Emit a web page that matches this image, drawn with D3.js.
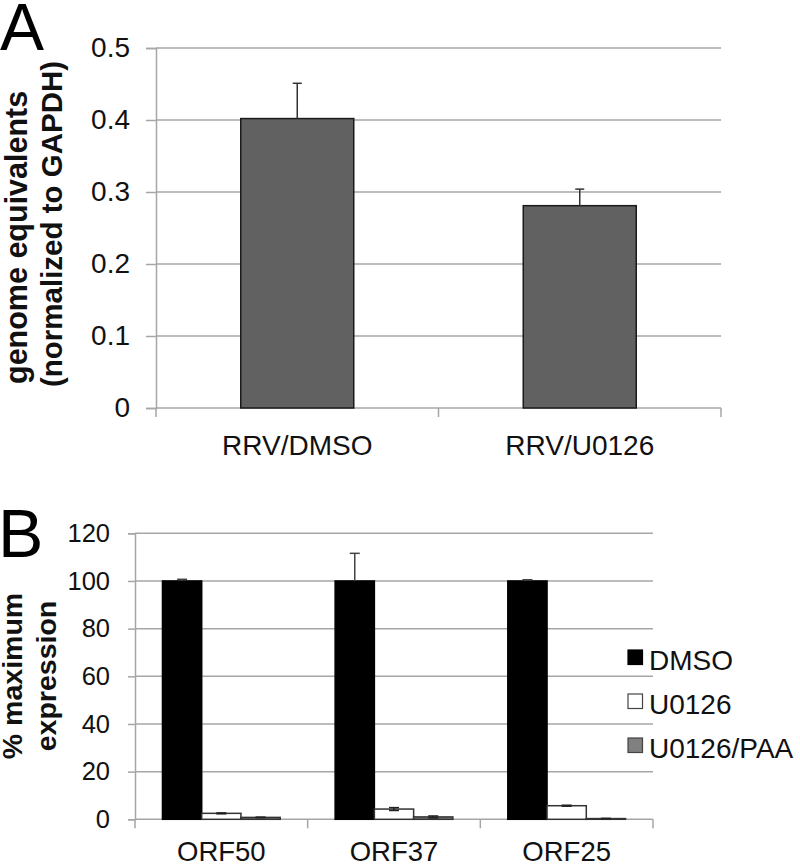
<!DOCTYPE html>
<html><head><meta charset="utf-8">
<script src="https://cdn.jsdelivr.net/npm/d3@7"></script>
<style>body{margin:0;background:#fff}svg{display:block;font-family:"Liberation Sans",Arial,sans-serif}</style>
</head><body>
<svg id="c" width="800" height="868"></svg>
<script>
// Panel A data
const catsA = ["RRV/DMSO", "RRV/U0126"];
const valsA = [0.402, 0.281];
const errA = [0.049, 0.023];
const ticksA = [0, 0.1, 0.2, 0.3, 0.4, 0.5];

// Panel B data
const catsB = ["ORF50", "ORF37", "ORF25"];
const seriesB = ["DMSO", "U0126", "U0126/PAA"];
const dmso = [100, 100, 100];
const dmsoErr = [0.7, 11.6, 0.5];
const u0126 = [2.5, 4.3, 5.7];
const u0126Err = [0.2, 0.6, 0.2];
const paa = [0.8, 1.0, 0.3];
const paaErr = [0.1, 0.4, 0.1];
const ticksB = [0, 20, 40, 60, 80, 100, 120];

const svg = d3.select("#c");
const grid = "#a6a6a6";

// ---------- Panel A ----------
const xA = d3.scaleBand().domain(catsA).range([156, 721]).paddingInner(0).paddingOuter(0);
const yA = d3.scaleLinear().domain([0, 0.5]).range([408, 48]);
const gA = svg.append("g");

gA.selectAll("line.grid").data(ticksA.slice(1)).join("line")
  .attr("x1", 156).attr("x2", 721).attr("y1", d => yA(d)).attr("y2", d => yA(d))
  .attr("stroke", grid).attr("stroke-width", 1.5);

const axA = gA.append("g").attr("transform", "translate(156,0)")
  .call(d3.axisLeft(yA).tickValues(ticksA).tickSize(10).tickPadding(16).tickFormat(d3.format(".1f")));
axA.select(".domain").attr("stroke", grid).attr("stroke-width", 1.5);
axA.selectAll(".tick line").attr("stroke", grid).attr("stroke-width", 1.5);
axA.selectAll(".tick text").attr("font-size", 28).attr("fill", "#111").attr("font-family", "Liberation Sans, Arial, sans-serif")
  .text(d => d === 0 ? "0" : d3.format(".1f")(d));

gA.append("line").attr("x1", 156).attr("x2", 721).attr("y1", yA(0)).attr("y2", yA(0)).attr("stroke", grid).attr("stroke-width", 1.5);
const bA = [xA.range()[0], ...catsA.map(c => xA(c) + xA.bandwidth())];
gA.selectAll("line.bt").data(bA).join("line")
  .attr("x1", d => d).attr("x2", d => d).attr("y1", yA(0)).attr("y2", yA(0) + 9)
  .attr("stroke", grid).attr("stroke-width", 1.5);

const bwA = xA.bandwidth() * 0.4;
gA.selectAll("rect.bar").data(catsA).join("rect")
  .attr("x", c => xA(c) + (xA.bandwidth() - bwA) / 2)
  .attr("y", (c, i) => yA(valsA[i]))
  .attr("width", bwA).attr("height", (c, i) => yA(0) - yA(valsA[i]))
  .attr("fill", "#616161").attr("stroke", "#1a1a1a").attr("stroke-width", 1.5);

catsA.forEach((c, i) => {
  const cx = xA(c) + xA.bandwidth() / 2;
  gA.append("line").attr("x1", cx).attr("x2", cx).attr("y1", yA(valsA[i])).attr("y2", yA(valsA[i] + errA[i])).attr("stroke", "#333").attr("stroke-width", 1.5);
  gA.append("line").attr("x1", cx - 4.5).attr("x2", cx + 4.5).attr("y1", yA(valsA[i] + errA[i])).attr("y2", yA(valsA[i] + errA[i])).attr("stroke", "#333").attr("stroke-width", 1.5);
});

gA.selectAll("text.cat").data(catsA).join("text")
  .attr("x", c => xA(c) + xA.bandwidth() / 2).attr("y", 455)
  .attr("text-anchor", "middle").attr("font-size", 28).attr("fill", "#111").text(c => c);

gA.append("text").attr("transform", "translate(26.5,384) rotate(-90)")
  .attr("font-size", 30.5).attr("font-weight", "bold").attr("fill", "#111").text("genome equivalents");
gA.append("text").attr("transform", "translate(61.5,387) rotate(-90)")
  .attr("font-size", 29.5).attr("font-weight", "bold").attr("fill", "#111").text("(normalized to GAPDH)");

svg.append("text").attr("x", 0).attr("y", 50).attr("font-size", 66).attr("fill", "#000").text("A");

// ---------- Panel B ----------
const xB = d3.scaleBand().domain(catsB).range([135, 653]).paddingInner(0).paddingOuter(0);
const x1 = d3.scaleBand().domain(seriesB).range([0, xB.bandwidth()]).paddingInner(0).paddingOuter(0.7);
const yB = d3.scaleLinear().domain([0, 120]).range([819.3, 533.3]);
const gB = svg.append("g");

gB.selectAll("line.grid").data(ticksB.slice(1)).join("line")
  .attr("x1", 135).attr("x2", 653).attr("y1", d => yB(d)).attr("y2", d => yB(d))
  .attr("stroke", grid).attr("stroke-width", 1.5);

const axB = gB.append("g").attr("transform", "translate(135,0)")
  .call(d3.axisLeft(yB).tickValues(ticksB).tickSize(7).tickPadding(18));
axB.select(".domain").attr("stroke", grid).attr("stroke-width", 1.5);
axB.selectAll(".tick line").attr("stroke", grid).attr("stroke-width", 1.5);
axB.selectAll(".tick text").attr("font-size", 25.5).attr("fill", "#111").attr("font-family", "Liberation Sans, Arial, sans-serif");

gB.append("line").attr("x1", 135).attr("x2", 653).attr("y1", yB(0)).attr("y2", yB(0)).attr("stroke", grid).attr("stroke-width", 1.5);
const bB = [xB.range()[0], ...catsB.map(c => xB(c) + xB.bandwidth())];
gB.selectAll("line.bt").data(bB).join("line")
  .attr("x1", d => d).attr("x2", d => d).attr("y1", yB(0)).attr("y2", yB(0) + 9)
  .attr("stroke", grid).attr("stroke-width", 1.5);

const seriesData = [
  {name: "DMSO", vals: dmso, errs: dmsoErr, fill: "#000", stroke: "#000"},
  {name: "U0126", vals: u0126, errs: u0126Err, fill: "#fff", stroke: "#333"},
  {name: "U0126/PAA", vals: paa, errs: paaErr, fill: "#808080", stroke: "#333"}
];

seriesData.forEach(s => {
  catsB.forEach((c, i) => {
    const x = xB(c) + x1(s.name);
    gB.append("rect").attr("x", x).attr("y", yB(s.vals[i]))
      .attr("width", x1.bandwidth()).attr("height", yB(0) - yB(s.vals[i]))
      .attr("fill", s.fill).attr("stroke", s.stroke).attr("stroke-width", 1.5);
  });
});
seriesData.forEach(s => {
  catsB.forEach((c, i) => {
    const cx = xB(c) + x1(s.name) + x1.bandwidth() / 2;
    const top = yB(s.vals[i] + s.errs[i]);
    const bot = s.name === "DMSO" ? yB(s.vals[i]) : yB(s.vals[i] - s.errs[i]);
    const col = s.name === "DMSO" ? "#444" : "#222";
    gB.append("line").attr("x1", cx).attr("x2", cx).attr("y1", bot).attr("y2", top).attr("stroke", col).attr("stroke-width", 1.5);
    gB.append("line").attr("x1", cx - 5).attr("x2", cx + 5).attr("y1", top).attr("y2", top).attr("stroke", col).attr("stroke-width", 1.5);
    if (s.name !== "DMSO") gB.append("line").attr("x1", cx - 5).attr("x2", cx + 5).attr("y1", bot).attr("y2", bot).attr("stroke", col).attr("stroke-width", 1.5);
  });
});

gB.selectAll("text.cat").data(catsB).join("text")
  .attr("x", c => xB(c) + xB.bandwidth() / 2).attr("y", 861)
  .attr("text-anchor", "middle").attr("font-size", 27.5).attr("fill", "#111").text(c => c);

gB.append("text").attr("transform", "translate(22,676) rotate(-90)").attr("text-anchor", "middle")
  .attr("font-size", 28.5).attr("font-weight", "bold").attr("fill", "#111").text("% maximum");
gB.append("text").attr("transform", "translate(56,676) rotate(-90)").attr("text-anchor", "middle")
  .attr("font-size", 28.5).attr("font-weight", "bold").attr("fill", "#111").text("expression");

svg.append("text").attr("x", -2).attr("y", 557).attr("font-size", 68).attr("fill", "#000").text("B");

// legend
const lg = svg.append("g");
seriesData.forEach((s, i) => {
  const y0 = 650 + i * 44;
  lg.append("rect").attr("x", 628).attr("y", y0).attr("width", 14.5).attr("height", 14.5)
    .attr("fill", s.fill).attr("stroke", s.name === "DMSO" ? "#000" : "#444").attr("stroke-width", 1.2);
  lg.append("text").attr("x", 649).attr("y", y0 + 19.5).attr("font-size", 28).attr("fill", "#111").text(s.name);
});
</script>
</body></html>
